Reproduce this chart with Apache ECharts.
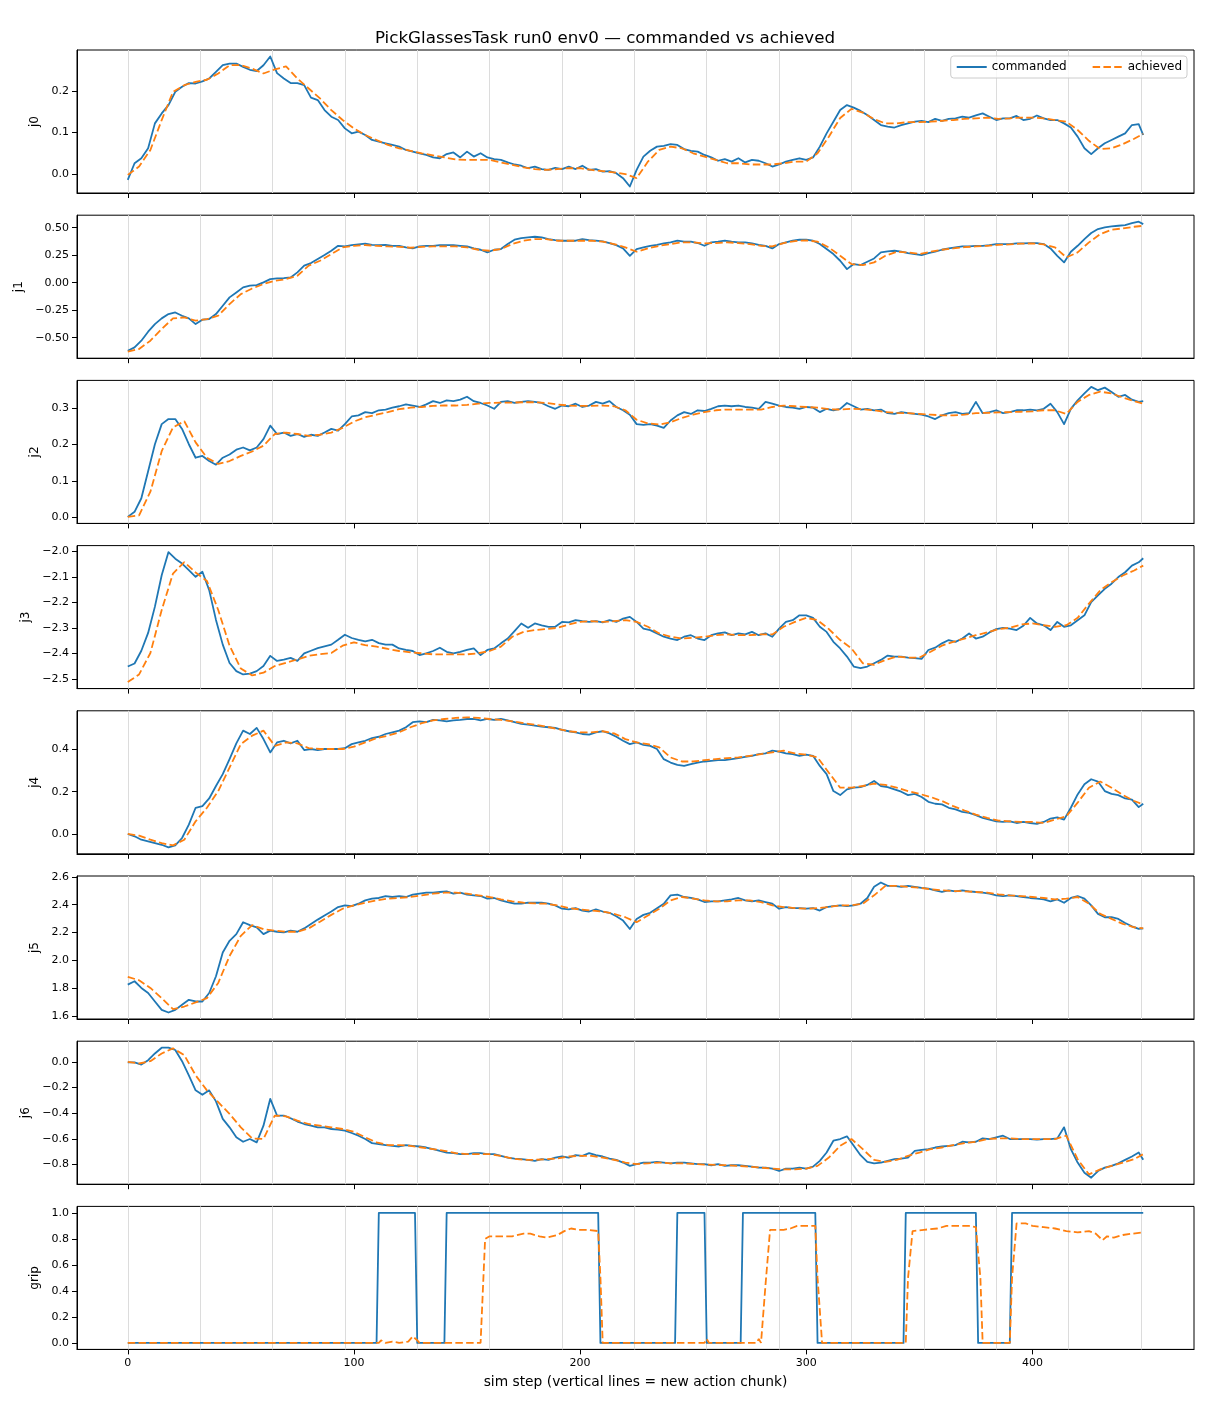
<!DOCTYPE html>
<html>
<head>
<meta charset="utf-8">
<script src="https://cdn.jsdelivr.net/npm/echarts@6/dist/echarts.min.js"></script>
<style>
html,body{margin:0;padding:0;background:#fff;}
#chart{width:1210px;height:1408px;}
</style>
</head>
<body>
<div id="chart"></div>
<script>
// ---------------- DATA ----------------
const TITLE = 'PickGlassesTask run0 env0 \u2014 commanded vs achieved';
const X_LABEL = 'sim step (vertical lines = new action chunk)';
const SERIES_NAMES = ['commanded', 'achieved'];
const STEP_CMD = 3;     // commanded values sampled every 3 sim steps
const STEP_ACH = 5;     // achieved values sampled every 5 sim steps
const LAST_STEP = 449;
const chunkStarts = [0,32,64,96,128,160,192,224,256,288,320,352,384,416,448];
const xTicks = [0,100,200,300,400];

const j0_ticks = [0,0.1,0.2];
const j1_ticks = [-0.5,-0.25,0,0.25,0.5];
const j2_ticks = [0,0.1,0.2,0.3];
const j3_ticks = [-2.5,-2.4,-2.3,-2.2,-2.1,-2.0];
const j4_ticks = [0,0.2,0.4];
const j5_ticks = [1.6,1.8,2.0,2.2,2.4,2.6];
const j6_ticks = [-0.8,-0.6,-0.4,-0.2,0];
const grip_ticks = [0,0.2,0.4,0.6,0.8,1.0];

const j0_cmd = [
-0.014,0.026,0.038,0.062,0.122,0.146,0.166,0.198,0.210,0.219,
0.218,0.223,0.230,0.246,0.262,0.266,0.266,0.258,0.251,0.248,
0.262,0.283,0.243,0.230,0.219,0.219,0.214,0.184,0.178,0.154,
0.138,0.130,0.110,0.098,0.102,0.094,0.082,0.078,0.074,0.070,
0.066,0.058,0.054,0.050,0.046,0.040,0.038,0.048,0.052,0.040,
0.054,0.042,0.050,0.040,0.036,0.034,0.028,0.023,0.020,0.014,
0.018,0.012,0.010,0.015,0.012,0.018,0.012,0.020,0.010,0.012,
0.006,0.007,0.002,-0.010,-0.030,0.010,0.042,0.056,0.066,0.068,
0.072,0.070,0.060,0.056,0.054,0.046,0.040,0.032,0.036,0.030,
0.038,0.028,0.034,0.032,0.026,0.018,0.023,0.030,0.034,0.038,
0.034,0.040,0.066,0.098,0.126,0.154,0.166,0.160,0.152,0.142,
0.130,0.118,0.114,0.112,0.118,0.122,0.126,0.128,0.125,0.133,
0.128,0.133,0.134,0.138,0.136,0.141,0.146,0.138,0.130,0.134,
0.134,0.140,0.130,0.133,0.141,0.134,0.130,0.130,0.122,0.112,
0.090,0.062,0.048,0.062,0.074,0.082,0.090,0.098,0.118,0.120,
0.094];
const j0_ach = [
-0.002,0.018,0.058,0.130,0.198,0.214,0.222,0.227,0.242,0.262,
0.262,0.254,0.242,0.252,0.259,0.230,0.206,0.182,0.154,0.130,
0.110,0.094,0.082,0.070,0.062,0.056,0.050,0.045,0.040,0.035,
0.034,0.034,0.034,0.028,0.022,0.016,0.012,0.010,0.012,0.014,
0.014,0.010,0.007,0.004,0.000,-0.010,0.030,0.058,0.066,0.062,
0.050,0.042,0.034,0.026,0.026,0.023,0.023,0.023,0.026,0.030,
0.030,0.050,0.090,0.135,0.157,0.148,0.132,0.122,0.122,0.125,
0.125,0.126,0.128,0.130,0.133,0.134,0.136,0.133,0.134,0.136,
0.136,0.134,0.130,0.126,0.106,0.080,0.060,0.062,0.072,0.085,
0.097];

const j1_cmd = [
-0.618,-0.588,-0.527,-0.445,-0.376,-0.324,-0.285,-0.270,-0.300,-0.324,
-0.376,-0.336,-0.330,-0.285,-0.209,-0.133,-0.088,-0.042,-0.027,-0.021,
0.003,0.033,0.039,0.042,0.048,0.094,0.155,0.179,0.215,0.252,
0.291,0.336,0.330,0.342,0.348,0.355,0.345,0.342,0.345,0.336,
0.336,0.321,0.312,0.330,0.336,0.336,0.342,0.342,0.342,0.336,
0.330,0.312,0.300,0.276,0.300,0.306,0.352,0.391,0.406,0.412,
0.418,0.412,0.397,0.388,0.382,0.382,0.382,0.397,0.388,0.382,
0.376,0.361,0.342,0.312,0.245,0.306,0.321,0.336,0.345,0.358,
0.367,0.382,0.373,0.373,0.361,0.336,0.367,0.373,0.382,0.373,
0.367,0.367,0.358,0.345,0.336,0.312,0.352,0.367,0.382,0.391,
0.391,0.382,0.352,0.306,0.261,0.200,0.124,0.170,0.161,0.191,
0.221,0.276,0.285,0.291,0.282,0.270,0.261,0.252,0.270,0.282,
0.300,0.312,0.321,0.330,0.330,0.336,0.336,0.342,0.352,0.352,
0.352,0.358,0.358,0.361,0.361,0.352,0.312,0.245,0.185,0.282,
0.336,0.397,0.452,0.488,0.503,0.512,0.518,0.524,0.542,0.555,
0.533];
const j1_ach = [
-0.627,-0.603,-0.527,-0.421,-0.324,-0.315,-0.345,-0.330,-0.300,-0.194,
-0.103,-0.052,-0.012,0.018,0.033,0.064,0.155,0.200,0.261,0.321,
0.336,0.342,0.336,0.330,0.327,0.318,0.327,0.330,0.330,0.330,
0.321,0.300,0.291,0.306,0.352,0.382,0.397,0.397,0.382,0.382,
0.382,0.382,0.373,0.352,0.321,0.282,0.312,0.336,0.352,0.367,
0.367,0.358,0.361,0.367,0.361,0.352,0.336,0.330,0.361,0.379,
0.385,0.373,0.321,0.245,0.170,0.161,0.185,0.245,0.282,0.276,
0.261,0.282,0.300,0.312,0.324,0.330,0.336,0.345,0.348,0.355,
0.358,0.348,0.321,0.230,0.276,0.367,0.442,0.482,0.494,0.509,
0.518];

const j2_cmd = [
0.002,0.016,0.053,0.127,0.201,0.256,0.270,0.270,0.243,0.201,
0.164,0.169,0.155,0.145,0.164,0.173,0.186,0.192,0.184,0.192,
0.215,0.252,0.229,0.233,0.224,0.229,0.221,0.227,0.224,0.233,
0.243,0.238,0.256,0.277,0.280,0.289,0.286,0.294,0.296,0.301,
0.305,0.310,0.307,0.303,0.310,0.319,0.314,0.321,0.319,0.323,
0.331,0.319,0.314,0.307,0.298,0.317,0.319,0.314,0.317,0.319,
0.317,0.314,0.305,0.298,0.307,0.305,0.312,0.303,0.307,0.317,
0.312,0.319,0.303,0.294,0.282,0.256,0.254,0.256,0.252,0.246,
0.266,0.280,0.289,0.284,0.294,0.292,0.298,0.305,0.307,0.305,
0.307,0.303,0.301,0.298,0.317,0.312,0.307,0.303,0.301,0.298,
0.303,0.301,0.289,0.298,0.294,0.298,0.314,0.305,0.296,0.298,
0.294,0.296,0.286,0.284,0.289,0.286,0.284,0.282,0.277,0.270,
0.280,0.286,0.289,0.284,0.286,0.317,0.286,0.289,0.294,0.286,
0.289,0.294,0.294,0.296,0.294,0.298,0.312,0.289,0.256,0.298,
0.321,0.340,0.358,0.349,0.356,0.344,0.331,0.336,0.323,0.317,
0.319];
const j2_ach = [
0.002,0.006,0.071,0.182,0.247,0.264,0.206,0.164,0.147,0.155,
0.169,0.181,0.197,0.229,0.233,0.229,0.224,0.227,0.233,0.246,
0.263,0.275,0.282,0.289,0.297,0.301,0.303,0.306,0.307,0.307,
0.309,0.312,0.314,0.315,0.315,0.316,0.316,0.314,0.310,0.307,
0.306,0.306,0.307,0.305,0.294,0.268,0.258,0.255,0.261,0.273,
0.282,0.289,0.294,0.296,0.296,0.296,0.296,0.303,0.307,0.305,
0.303,0.301,0.297,0.296,0.298,0.297,0.294,0.289,0.287,0.286,
0.284,0.282,0.280,0.280,0.282,0.286,0.287,0.288,0.289,0.290,
0.291,0.294,0.294,0.284,0.317,0.336,0.345,0.340,0.329,0.319,
0.312];

const j3_cmd = [
-2.452,-2.440,-2.390,-2.320,-2.217,-2.094,-2.003,-2.029,-2.048,-2.074,
-2.100,-2.080,-2.152,-2.269,-2.366,-2.438,-2.470,-2.483,-2.480,-2.470,
-2.450,-2.410,-2.430,-2.425,-2.418,-2.430,-2.400,-2.390,-2.380,-2.373,
-2.366,-2.347,-2.327,-2.340,-2.347,-2.353,-2.347,-2.360,-2.366,-2.366,
-2.381,-2.387,-2.391,-2.407,-2.400,-2.391,-2.378,-2.394,-2.400,-2.394,
-2.387,-2.381,-2.407,-2.387,-2.381,-2.361,-2.342,-2.313,-2.283,-2.300,
-2.283,-2.290,-2.296,-2.296,-2.277,-2.279,-2.270,-2.274,-2.277,-2.274,
-2.279,-2.270,-2.277,-2.264,-2.257,-2.277,-2.303,-2.309,-2.322,-2.335,
-2.342,-2.348,-2.335,-2.329,-2.342,-2.348,-2.329,-2.322,-2.318,-2.329,
-2.322,-2.326,-2.316,-2.329,-2.322,-2.335,-2.303,-2.277,-2.270,-2.251,
-2.251,-2.261,-2.296,-2.316,-2.355,-2.381,-2.413,-2.452,-2.458,-2.452,
-2.439,-2.426,-2.409,-2.413,-2.413,-2.417,-2.419,-2.422,-2.387,-2.378,
-2.361,-2.348,-2.355,-2.342,-2.322,-2.342,-2.335,-2.318,-2.305,-2.300,
-2.303,-2.309,-2.292,-2.261,-2.283,-2.290,-2.309,-2.277,-2.296,-2.290,
-2.270,-2.251,-2.199,-2.173,-2.147,-2.127,-2.101,-2.082,-2.056,-2.043,
-2.027];
const j3_ach = [
-2.513,-2.483,-2.399,-2.230,-2.087,-2.042,-2.083,-2.116,-2.230,-2.370,
-2.460,-2.487,-2.476,-2.450,-2.437,-2.424,-2.410,-2.403,-2.399,-2.370,
-2.357,-2.368,-2.374,-2.383,-2.391,-2.396,-2.400,-2.404,-2.404,-2.404,
-2.404,-2.400,-2.391,-2.374,-2.335,-2.316,-2.309,-2.305,-2.300,-2.287,
-2.277,-2.274,-2.277,-2.274,-2.270,-2.277,-2.296,-2.322,-2.335,-2.342,
-2.339,-2.335,-2.329,-2.326,-2.329,-2.329,-2.326,-2.326,-2.296,-2.277,
-2.261,-2.270,-2.305,-2.348,-2.381,-2.439,-2.445,-2.426,-2.413,-2.417,
-2.417,-2.394,-2.370,-2.355,-2.342,-2.329,-2.318,-2.305,-2.300,-2.287,
-2.283,-2.290,-2.296,-2.290,-2.261,-2.205,-2.153,-2.121,-2.095,-2.075,
-2.056];

const j4_cmd = [
0.000,-0.011,-0.027,-0.035,-0.043,-0.051,-0.063,-0.054,-0.019,0.044,
0.124,0.132,0.168,0.227,0.283,0.354,0.429,0.489,0.473,0.502,
0.449,0.386,0.433,0.441,0.429,0.441,0.397,0.402,0.397,0.402,
0.402,0.402,0.406,0.425,0.433,0.441,0.454,0.460,0.473,0.481,
0.489,0.505,0.529,0.533,0.529,0.540,0.537,0.533,0.537,0.540,
0.544,0.544,0.537,0.544,0.540,0.544,0.537,0.529,0.521,0.517,
0.513,0.508,0.505,0.502,0.492,0.486,0.481,0.473,0.470,0.481,
0.486,0.476,0.460,0.441,0.425,0.433,0.422,0.417,0.402,0.354,
0.338,0.327,0.322,0.330,0.338,0.343,0.346,0.349,0.349,0.354,
0.359,0.365,0.370,0.378,0.381,0.394,0.390,0.381,0.378,0.370,
0.375,0.370,0.322,0.283,0.203,0.184,0.211,0.219,0.222,0.232,
0.251,0.227,0.222,0.211,0.200,0.184,0.190,0.175,0.152,0.143,
0.140,0.124,0.116,0.105,0.100,0.089,0.076,0.068,0.060,0.057,
0.060,0.052,0.057,0.052,0.048,0.057,0.073,0.079,0.068,0.124,
0.187,0.235,0.259,0.248,0.203,0.190,0.184,0.168,0.163,0.127,
0.143];
const j4_ach = [
0.000,-0.008,-0.027,-0.043,-0.054,-0.027,0.060,0.124,0.203,0.314,
0.425,0.465,0.489,0.417,0.433,0.429,0.406,0.402,0.402,0.402,
0.413,0.433,0.454,0.465,0.481,0.505,0.524,0.537,0.544,0.549,
0.552,0.549,0.544,0.540,0.533,0.524,0.517,0.508,0.497,0.486,
0.481,0.481,0.486,0.476,0.449,0.433,0.425,0.410,0.362,0.343,
0.343,0.349,0.354,0.359,0.362,0.370,0.378,0.386,0.394,0.381,
0.375,0.362,0.290,0.219,0.219,0.227,0.238,0.232,0.219,0.203,
0.190,0.175,0.156,0.132,0.111,0.092,0.076,0.063,0.060,0.057,
0.057,0.052,0.068,0.084,0.148,0.219,0.248,0.219,0.184,0.156,
0.140];

const j5_cmd = [
1.827,1.851,1.803,1.767,1.706,1.646,1.627,1.646,1.682,1.718,
1.706,1.706,1.767,1.887,2.057,2.141,2.189,2.274,2.254,2.238,
2.189,2.214,2.206,2.201,2.214,2.206,2.230,2.262,2.293,2.322,
2.351,2.383,2.395,2.390,2.407,2.431,2.443,2.448,2.462,2.455,
2.462,2.455,2.472,2.479,2.486,2.486,2.491,2.496,2.479,2.486,
2.472,2.467,2.462,2.443,2.448,2.431,2.419,2.407,2.407,2.414,
2.414,2.414,2.407,2.395,2.371,2.366,2.375,2.358,2.351,2.366,
2.351,2.342,2.317,2.286,2.226,2.298,2.327,2.342,2.375,2.407,
2.467,2.472,2.455,2.448,2.438,2.419,2.424,2.424,2.431,2.438,
2.448,2.431,2.424,2.431,2.419,2.407,2.371,2.383,2.375,2.375,
2.371,2.375,2.358,2.383,2.390,2.395,2.390,2.395,2.407,2.448,
2.528,2.559,2.535,2.535,2.528,2.535,2.528,2.520,2.515,2.503,
2.491,2.503,2.496,2.503,2.496,2.491,2.486,2.479,2.467,2.462,
2.467,2.462,2.455,2.448,2.443,2.438,2.424,2.438,2.414,2.448,
2.462,2.443,2.395,2.334,2.310,2.310,2.298,2.269,2.245,2.226,
2.230];
const j5_ach = [
1.883,1.858,1.803,1.730,1.651,1.670,1.699,1.730,1.839,2.032,
2.177,2.254,2.225,2.214,2.206,2.206,2.230,2.278,2.327,2.371,
2.395,2.414,2.431,2.443,2.448,2.455,2.467,2.479,2.486,2.486,
2.479,2.467,2.455,2.438,2.424,2.414,2.409,2.407,2.395,2.375,
2.366,2.358,2.351,2.334,2.310,2.274,2.322,2.371,2.431,2.455,
2.443,2.431,2.424,2.424,2.431,2.431,2.419,2.395,2.383,2.375,
2.371,2.375,2.383,2.395,2.395,2.407,2.467,2.535,2.535,2.528,
2.522,2.510,2.503,2.498,2.496,2.491,2.486,2.474,2.467,2.462,
2.455,2.448,2.438,2.443,2.455,2.407,2.334,2.298,2.262,2.238,
2.230];

const j6_cmd = [
-0.005,-0.005,-0.021,0.013,0.065,0.110,0.110,0.092,0.005,-0.105,
-0.222,-0.256,-0.222,-0.308,-0.444,-0.510,-0.588,-0.622,-0.601,-0.627,
-0.497,-0.288,-0.418,-0.418,-0.439,-0.465,-0.484,-0.497,-0.510,-0.510,
-0.523,-0.528,-0.536,-0.554,-0.575,-0.601,-0.633,-0.641,-0.648,-0.654,
-0.659,-0.648,-0.654,-0.659,-0.667,-0.680,-0.693,-0.706,-0.711,-0.719,
-0.719,-0.711,-0.711,-0.719,-0.719,-0.732,-0.745,-0.753,-0.758,-0.763,
-0.771,-0.758,-0.763,-0.745,-0.737,-0.745,-0.727,-0.732,-0.711,-0.727,
-0.737,-0.753,-0.763,-0.784,-0.810,-0.797,-0.784,-0.784,-0.779,-0.784,
-0.790,-0.784,-0.784,-0.790,-0.797,-0.797,-0.805,-0.797,-0.810,-0.805,
-0.805,-0.810,-0.816,-0.824,-0.824,-0.831,-0.850,-0.831,-0.831,-0.824,
-0.831,-0.816,-0.771,-0.706,-0.614,-0.601,-0.580,-0.654,-0.727,-0.779,
-0.790,-0.784,-0.771,-0.758,-0.753,-0.745,-0.693,-0.685,-0.680,-0.667,
-0.659,-0.654,-0.648,-0.622,-0.627,-0.622,-0.596,-0.601,-0.588,-0.575,
-0.601,-0.601,-0.601,-0.601,-0.606,-0.601,-0.601,-0.596,-0.510,-0.680,
-0.784,-0.863,-0.902,-0.850,-0.824,-0.810,-0.790,-0.763,-0.737,-0.706,
-0.763];
const j6_ach = [
0.000,-0.013,0.005,0.065,0.105,0.052,-0.105,-0.222,-0.314,-0.405,
-0.510,-0.596,-0.601,-0.418,-0.424,-0.458,-0.484,-0.497,-0.510,-0.523,
-0.544,-0.588,-0.627,-0.648,-0.648,-0.654,-0.667,-0.680,-0.693,-0.711,
-0.719,-0.719,-0.719,-0.732,-0.753,-0.763,-0.763,-0.758,-0.753,-0.737,
-0.732,-0.732,-0.745,-0.763,-0.784,-0.797,-0.790,-0.784,-0.790,-0.790,
-0.795,-0.800,-0.803,-0.805,-0.810,-0.816,-0.824,-0.831,-0.837,-0.837,
-0.831,-0.810,-0.745,-0.654,-0.601,-0.680,-0.763,-0.779,-0.763,-0.732,
-0.706,-0.680,-0.667,-0.648,-0.633,-0.622,-0.601,-0.596,-0.596,-0.601,
-0.601,-0.601,-0.601,-0.575,-0.758,-0.876,-0.837,-0.810,-0.784,-0.758,
-0.719];

// grip: [sim step, value] points
const grip_cmd = [
[0,0],[110,0],[111,1],[127,1],[128,0],[140,0],[141,1],[208,1],[209,0],
[242,0],[243,1],[255,1],[256,0],[271,0],[272,1],[304,1],[305,0],
[343,0],[344,1],[375,1],[376,0],[390,0],[391,1],[449,1]];
const grip_ach = [
[0,0],[111,0],[112,0.02],[114,0],[117,0.01],[120,0],[124,0.01],[126,0.05],[128,0.02],[129,0],
[156,0],[157,0.4],[158,0.8],[160,0.82],[165,0.82],[170,0.82],[175,0.84],[178,0.84],[182,0.82],
[185,0.81],[190,0.83],[193,0.86],[196,0.88],[199,0.87],[203,0.87],[208,0.86],[209,0.5],[210,0],
[255,0],[256,0.03],[257,0],[278,0],[279,0.03],[280,0],[282,0.45],[284,0.87],[290,0.87],[293,0.88],
[296,0.9],[300,0.9],[304,0.9],[305,0.5],[307,0],[344,0],[345,0.5],[347,0.86],[352,0.87],
[358,0.88],[362,0.9],[368,0.9],[372,0.9],[375,0.89],[377,0.5],[378,0],[390,0],[391,0.5],
[393,0.92],[397,0.92],[400,0.9],[405,0.89],[410,0.88],[415,0.86],[420,0.85],[425,0.86],
[428,0.84],[431,0.79],[433,0.82],[436,0.81],[440,0.83],[444,0.84],[449,0.85]];

// ---------------- BUILD ----------------
const toPairs = (arr, step) => arr.map((v, i) => [Math.min(i * step, LAST_STEP), v]);

const panels = [
  {label:'j0', cmd:toPairs(j0_cmd,STEP_CMD), ach:toPairs(j0_ach,STEP_ACH), ticks:j0_ticks, dec:1, gap:33},
  {label:'j1', cmd:toPairs(j1_cmd,STEP_CMD), ach:toPairs(j1_ach,STEP_ACH), ticks:j1_ticks, dec:2, gap:48},
  {label:'j2', cmd:toPairs(j2_cmd,STEP_CMD), ach:toPairs(j2_ach,STEP_ACH), ticks:j2_ticks, dec:1, gap:33},
  {label:'j3', cmd:toPairs(j3_cmd,STEP_CMD), ach:toPairs(j3_ach,STEP_ACH), ticks:j3_ticks, dec:1, gap:41},
  {label:'j4', cmd:toPairs(j4_cmd,STEP_CMD), ach:toPairs(j4_ach,STEP_ACH), ticks:j4_ticks, dec:1, gap:33},
  {label:'j5', cmd:toPairs(j5_cmd,STEP_CMD), ach:toPairs(j5_ach,STEP_ACH), ticks:j5_ticks, dec:1, gap:33},
  {label:'j6', cmd:toPairs(j6_cmd,STEP_CMD), ach:toPairs(j6_ach,STEP_ACH), ticks:j6_ticks, dec:1, gap:41},
  {label:'grip', cmd:grip_cmd, ach:grip_ach, ticks:grip_ticks, dec:1, gap:33}
];

const FONT = 'DejaVu Sans';
const GRID_LEFT = 77, GRID_RIGHT = 16, GRID_TOP0 = 50, GRID_H = 143, GRID_STEP = 165.2;
const XMIN = -0.05 * LAST_STEP, XMAX = LAST_STEP * 1.05;
const fmt = (v, dec) => (v < -1e-9 ? '\u2212' : '') + Math.abs(v).toFixed(dec);

const grids = [], xAxes = [], yAxes = [], series = [];
panels.forEach((p, k) => {
  const last = k === panels.length - 1;
  grids.push({left: GRID_LEFT, right: GRID_RIGHT, top: GRID_TOP0 + k * GRID_STEP, height: GRID_H,
              show: true, borderColor: '#000', borderWidth: 1, backgroundColor: '#fff'});
  xAxes.push({
    type: 'value', gridIndex: k, min: XMIN, max: XMAX,
    axisLine: {show: true, onZero: false, lineStyle: {color: '#000', width: 1}},
    axisTick: {show: true, customValues: xTicks, length: 5, lineStyle: {color: '#000', width: 1}},
    axisLabel: {show: last, customValues: xTicks, fontSize: 11, color: '#000', fontFamily: FONT, margin: 8},
    splitLine: {show: false},
    name: last ? X_LABEL : '', nameLocation: 'middle', nameGap: 26,
    nameTextStyle: {fontSize: 13.8, color: '#000', fontFamily: FONT}
  });
  yAxes.push({
    type: 'value', gridIndex: k, scale: true,
    min: v => v.min - 0.05 * (v.max - v.min),
    max: v => v.max + 0.05 * (v.max - v.min),
    axisLine: {show: true, onZero: false, lineStyle: {color: '#000', width: 1}},
    axisTick: {show: true, customValues: p.ticks, length: 5, lineStyle: {color: '#000', width: 1}},
    axisLabel: {customValues: p.ticks, formatter: v => fmt(v, p.dec), fontSize: 11, color: '#000',
                fontFamily: FONT, margin: 8},
    splitLine: {show: false},
    name: p.label, nameLocation: 'middle', nameGap: p.gap, nameRotate: 90,
    nameTextStyle: {fontSize: 12, color: '#000', fontFamily: FONT}
  });
  // chunk boundary lines
  series.push({
    type: 'line', xAxisIndex: k, yAxisIndex: k, data: [], z: 1, silent: true,
    markLine: {silent: true, symbol: ['none', 'none'], z: 1, animation: false,
      label: {show: false}, emphasis: {disabled: true},
      lineStyle: {color: '#dcdcdc', width: 1, type: 'solid'},
      data: chunkStarts.map(x => ({xAxis: x}))}
  });
  series.push({
    name: SERIES_NAMES[0], type: 'line', xAxisIndex: k, yAxisIndex: k, data: p.cmd,
    symbol: 'none', showSymbol: false, z: 2, animation: false,
    lineStyle: {color: '#1f77b4', width: 1.8, cap: 'butt', join: 'round'},
    itemStyle: {color: '#1f77b4'}
  });
  series.push({
    name: SERIES_NAMES[1], type: 'line', xAxisIndex: k, yAxisIndex: k, data: p.ach,
    symbol: 'none', showSymbol: false, z: 3, animation: false,
    lineStyle: {color: '#ff7f0e', width: 1.8, type: [7.5, 3.3], cap: 'butt'},
    itemStyle: {color: '#ff7f0e'}
  });
});

const chart = echarts.init(document.getElementById('chart'), null, {renderer: 'canvas'});
chart.setOption({
  backgroundColor: '#fff',
  animation: false,
  title: {text: TITLE, left: 'center', top: 25,
          textStyle: {fontSize: 16.7, fontWeight: 'normal', color: '#000', fontFamily: FONT}},
  legend: {data: SERIES_NAMES, right: 23, top: 56, orient: 'horizontal',
           itemWidth: 30, itemHeight: 12, itemGap: 25, padding: [5, 5],
           itemStyle: {opacity: 0, color: 'rgba(0,0,0,0)', borderWidth: 0},
           borderColor: '#cccccc', borderWidth: 1, borderRadius: 3,
           backgroundColor: 'rgba(255,255,255,0.8)',
           textStyle: {fontSize: 12, color: '#000', fontFamily: FONT}},
  grid: grids, xAxis: xAxes, yAxis: yAxes, series: series
});
</script>
</body>
</html>
